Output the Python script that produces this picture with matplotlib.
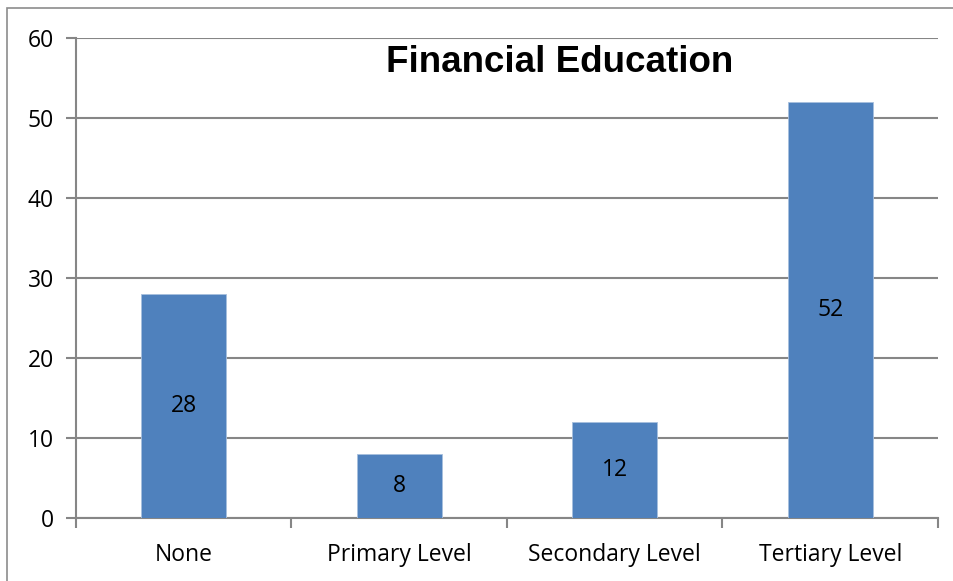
import matplotlib
matplotlib.use("Agg")
import matplotlib.pyplot as plt
from matplotlib.patches import Rectangle
import numpy as np

categories = ["None", "Primary Level", "Secondary Level", "Tertiary Level"]
values = [28, 8, 12, 52]
title = "Financial Education"
yticks = [0, 10, 20, 30, 40, 50, 60]

W, H = 954, 581
fig = plt.figure(figsize=(W / 100, H / 100), dpi=100)
fig.patch.set_facecolor("white")

# chart area border
fig.patches.append(Rectangle((7 / W, -0.05), 1.1, 1 - 8 / H + 0.05,
                             transform=fig.transFigure, fill=False,
                             edgecolor="#8c8c8c", linewidth=1.2, zorder=0))

ax = fig.add_axes([76 / W, 1 - 518 / H, (938 - 76) / W, (518 - 38) / H])
grid_c = "#868686"
fs = 16.5
x = np.arange(len(categories))
bars = ax.bar(x, values, width=0.395, color="#4F81BD", edgecolor="#A7BFDE",
              linewidth=0.6, zorder=3)

for xi, v in zip(x, values):
    ax.text(xi, v / 2, str(v), ha="center", va="center", fontsize=fs,
            family="Open Sans", color="black", zorder=4)

ax.set_xlim(-0.5, len(categories) - 0.5)
ax.set_ylim(0, 60)
ax.set_yticks(yticks)
ax.set_yticklabels([str(t) for t in yticks], fontsize=fs, family="Open Sans")
ax.yaxis.grid(True, color=grid_c, linewidth=1.5, zorder=1)
ax.set_axisbelow(True)

ax.set_xticks(np.arange(-0.5, len(categories)), minor=False)
ax.set_xticklabels([])
ax.set_xticks(x, minor=True)
ax.set_xticklabels(categories, minor=True, fontsize=fs, family="Open Sans")
ax.tick_params(axis="x", which="major", length=7, width=1.5, color=grid_c,
               direction="out")
ax.tick_params(axis="x", which="minor", length=0, pad=18)
ax.tick_params(axis="y", length=7, width=1.5, color=grid_c, pad=9)

for s in ["top", "right"]:
    ax.spines[s].set_visible(False)
for s in ["left", "bottom"]:
    ax.spines[s].set_color(grid_c)
    ax.spines[s].set_linewidth(1.5)

fig.text(560 / W, 1 - 62 / H, title, ha="center", va="center", fontsize=26.5,
         fontweight="bold", family="Liberation Sans")

fig.savefig("out.png", dpi=100)
